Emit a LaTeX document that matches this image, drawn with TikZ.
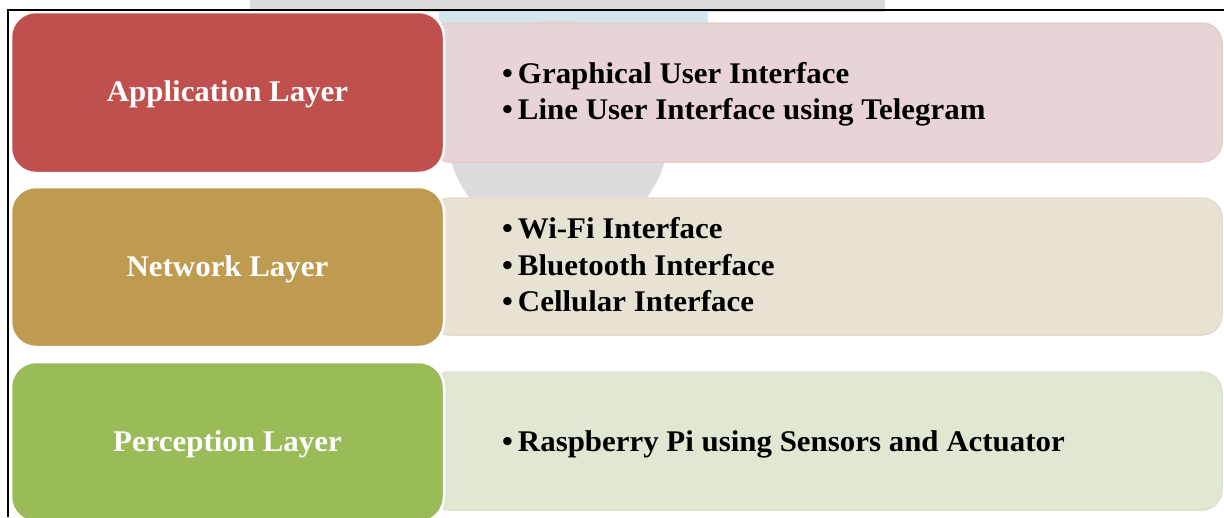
\documentclass[tikz,border=0pt]{standalone}
\usepackage{fontspec}
\setmainfont{Liberation Serif}[FakeStretch=1.03]

\definecolor{redbox}{HTML}{C0504D}
\definecolor{goldbox}{HTML}{BF9B52}
\definecolor{greenbox}{HTML}{9BBB59}
\definecolor{redlight}{HTML}{E8D4D4}
\definecolor{goldlight}{HTML}{E8E2D4}
\definecolor{greenlight}{HTML}{E0E8D4}
\definecolor{redline}{HTML}{E3CECE}
\definecolor{goldline}{HTML}{E3DCCD}
\definecolor{greenline}{HTML}{DAE3CC}
\definecolor{markgrey}{HTML}{DCDCDE}
\definecolor{markblue}{HTML}{D3E6EE}

\tikzset{
  layerbox/.style={draw=white, line width=2.5pt, rounded corners=25pt,
    minimum width=433pt, text=white, inner sep=0pt,
    text height=22pt, text depth=4pt,
    font=\fontsize{30}{36}\selectfont\bfseries},
  listbox/.style={line width=1.5pt, rounded corners=20pt, minimum width=792pt,
    inner sep=0pt},
  item/.style={anchor=base west, inner sep=0pt, text=black,
    font=\fontsize{30}{36}\selectfont\bfseries}
}
\newcommand{\itembullet}{\textbullet\hspace{5pt}}

\begin{document}
\begin{tikzpicture}[x=1pt, y=-1pt]
  \clip (0,0) rectangle (1224,517);
  \fill[white] (0,0) rectangle (1224,517);

  % faint background mark
  \fill[markgrey] (250,0) rectangle (885,12);
  \fill[markblue] (439,11) rectangle (708,32);
  \fill[markgrey] (558,131) circle[radius=111];

  % list panels
  \node[listbox, fill=redlight, draw=redline, minimum height=139pt] (appbg) at (826,92.5) {};
  \node[listbox, fill=goldlight, draw=goldline, fill opacity=0.98, minimum height=137pt] (netbg) at (826,266.5) {};
  \node[listbox, fill=greenlight, draw=greenline, minimum height=138pt] (perbg) at (826,441) {};

  % layer boxes
  \node[layerbox, fill=redbox, minimum height=161pt] (app) at (227.5,92.5) {Application Layer};
  \node[layerbox, fill=goldbox, minimum height=160pt] (net) at (227.5,267) {Network Layer};
  \node[layerbox, fill=greenbox, minimum height=160pt] (per) at (227.5,442) {Perception Layer};

  % list items
  \node[item] (a1) at (502,83) {\itembullet Graphical User Interface};
  \node[item] (a2) at (502,119) {\itembullet Line User Interface using Telegram};
  \node[item] (n1) at (502,238) {\itembullet Wi-Fi Interface};
  \node[item] (n2) at (502,275) {\itembullet Bluetooth Interface};
  \node[item] (n3) at (502,311) {\itembullet Cellular Interface};
  \node[item] (p1) at (502,451) {\itembullet Raspberry Pi using Sensors and Actuator};

  % page frame
  \draw[line width=2pt] (7.5,517) -- (7.5,9.5) -- (1224,9.5);
\end{tikzpicture}
\end{document}
